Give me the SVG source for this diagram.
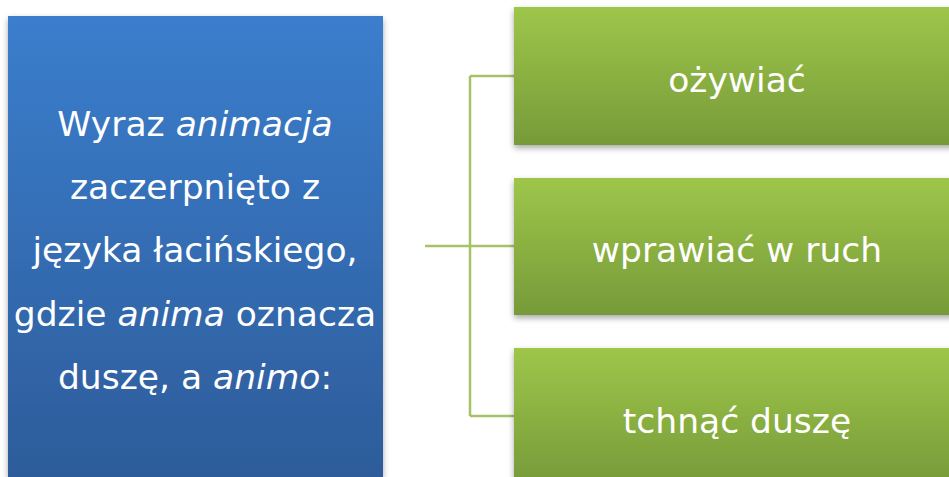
<svg xmlns="http://www.w3.org/2000/svg" width="949" height="477" viewBox="0 0 949 477">
<defs>
<linearGradient id="gBlue" x1="0" y1="0" x2="0" y2="1">
<stop offset="0" stop-color="#3b7ecd"/>
<stop offset="1" stop-color="#2d5c9a"/>
</linearGradient>
<linearGradient id="gGreen" x1="0" y1="0" x2="0" y2="1">
<stop offset="0" stop-color="#9ec64a"/>
<stop offset="1" stop-color="#779a39"/>
</linearGradient>
<filter id="sh" x="-10%" y="-10%" width="120%" height="120%">
<feGaussianBlur in="SourceAlpha" stdDeviation="3"/>
<feOffset dx="0" dy="3"/>
<feComponentTransfer><feFuncA type="linear" slope="0.35"/></feComponentTransfer>
<feMerge><feMergeNode/><feMergeNode in="SourceGraphic"/></feMerge>
</filter>
</defs>
<style>
text{font-family:"DejaVu Sans",Verdana,sans-serif;font-size:34.5px;fill:#ffffff;text-anchor:middle}
.it{font-style:italic}
.conn{stroke:#a5c266;stroke-width:2.5;fill:none}
</style>
<rect width="949" height="477" fill="#ffffff"/>
<g id="connectors">
<path class="conn" d="M425 246H514M470 76V416M470 76H514M470 416H514"/>
</g>
<g id="source">
<rect x="8" y="16" width="375" height="461" fill="url(#gBlue)" filter="url(#sh)"/>
<text x="195" y="136">Wyraz <tspan class="it">animacja</tspan></text>
<text x="195" y="199">zaczerpnięto z</text>
<text x="195" y="262">języka łacińskiego,</text>
<text x="195" y="326">gdzie <tspan class="it">anima</tspan> oznacza</text>
<text x="195" y="389">duszę, a <tspan class="it">animo</tspan>:</text>
</g>
<g id="n1">
<rect x="514" y="7" width="446" height="138" fill="url(#gGreen)" filter="url(#sh)"/>
<text x="737" y="92">ożywiać</text>
</g>
<g id="n2">
<rect x="514" y="178" width="446" height="137" fill="url(#gGreen)" filter="url(#sh)"/>
<text x="737" y="262">wprawiać w ruch</text>
</g>
<g id="n3">
<rect x="514" y="348" width="446" height="137" fill="url(#gGreen)" filter="url(#sh)"/>
<text x="737" y="433">tchnąć duszę</text>
</g>
</svg>
